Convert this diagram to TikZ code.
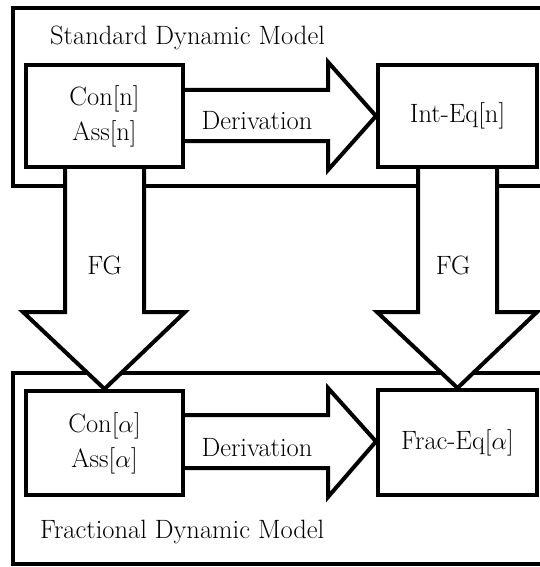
\documentclass[tikz,border=0pt]{standalone}
\usepackage{fontspec}
\setmainfont{Latin Modern Roman}
\newcommand{\myalpha}{$\alpha$}
\pgfdeclarelayer{framelayer}
\pgfdeclarelayer{arrowlayer}
\pgfsetlayers{framelayer,arrowlayer,main}
\begin{document}
\begin{tikzpicture}[x=1pt,y=-1pt,
  lw/.style={line width=4pt},
  frame/.style={lw},
  blockbox/.style={lw, fill=white, draw, minimum width=157pt, minimum height=102pt, inner sep=0pt, align=center},
  blockarrow/.style={lw, fill=white, line join=miter},
  lbl/.style={font=\fontsize{26.5}{36}\selectfont, inner sep=0pt},
  txt/.style={font=\fontsize{26.5}{35}\selectfont, align=center}
]
\useasboundingbox (0,0) rectangle (539,567);
\clip (0,0) rectangle (539,567);
\begin{pgfonlayer}{framelayer}
\fill[white] (0,0) rectangle (539,567);
\draw[frame] (560,8) -- (13,8) -- (13,186) -- (560,186);
\draw[frame] (560,373) -- (13,373) -- (13,564) -- (560,564);
\end{pgfonlayer}
% boxes
\node[blockbox, txt] (cn) at (104.5,116) {Con[n]\\Ass[n]};
\node[blockbox, txt, minimum width=159pt] (ie) at (457.5,116) {Int-Eq[n]};
\node[blockbox, txt, minimum height=104pt] (ca) at (104.5,443) {Con[\myalpha]\\Ass[\myalpha]};
\node[blockbox, txt, minimum width=159pt, minimum height=105pt] (fe) at (457.5,442.5) {Frac-Eq[\myalpha]};
% block arrows
\begin{pgfonlayer}{arrowlayer}
\draw[blockarrow] (cn.east |- 0,90) -- (328,90) -- (328,62) -- (ie.west |- 0,116) -- (328,170) -- (328,141) -- (cn.east |- 0,141);
\draw[blockarrow] (ca.east |- 0,415) -- (328,415) -- (328,388) -- (fe.west |- 0,441.5) -- (328,497) -- (328,468) -- (ca.east |- 0,468);
\draw[blockarrow] (65,0 |- cn.south) -- (65,312) -- (23,312) -- (ca.north) -- (185,312) -- (144,312) -- (144,0 |- cn.south);
\draw[blockarrow] (418,0 |- ie.south) -- (418,312) -- (377,312) -- (fe.north) -- (537,312) -- (497,312) -- (497,0 |- ie.south);
\end{pgfonlayer}
% labels
\node[lbl] (d1) at (257,121) {Derivation};
\node[lbl] (d2) at (257,448) {Derivation};
\node[lbl] (fg1) at (104.5,265) {FG};
\node[lbl] (fg2) at (453,265) {FG};
\node[lbl, anchor=west] (sdm) at (50,38) {Standard Dynamic Model};
\node[lbl, anchor=west] (fdm) at (40,532) {Fractional Dynamic Model};
\end{tikzpicture}
\end{document}
